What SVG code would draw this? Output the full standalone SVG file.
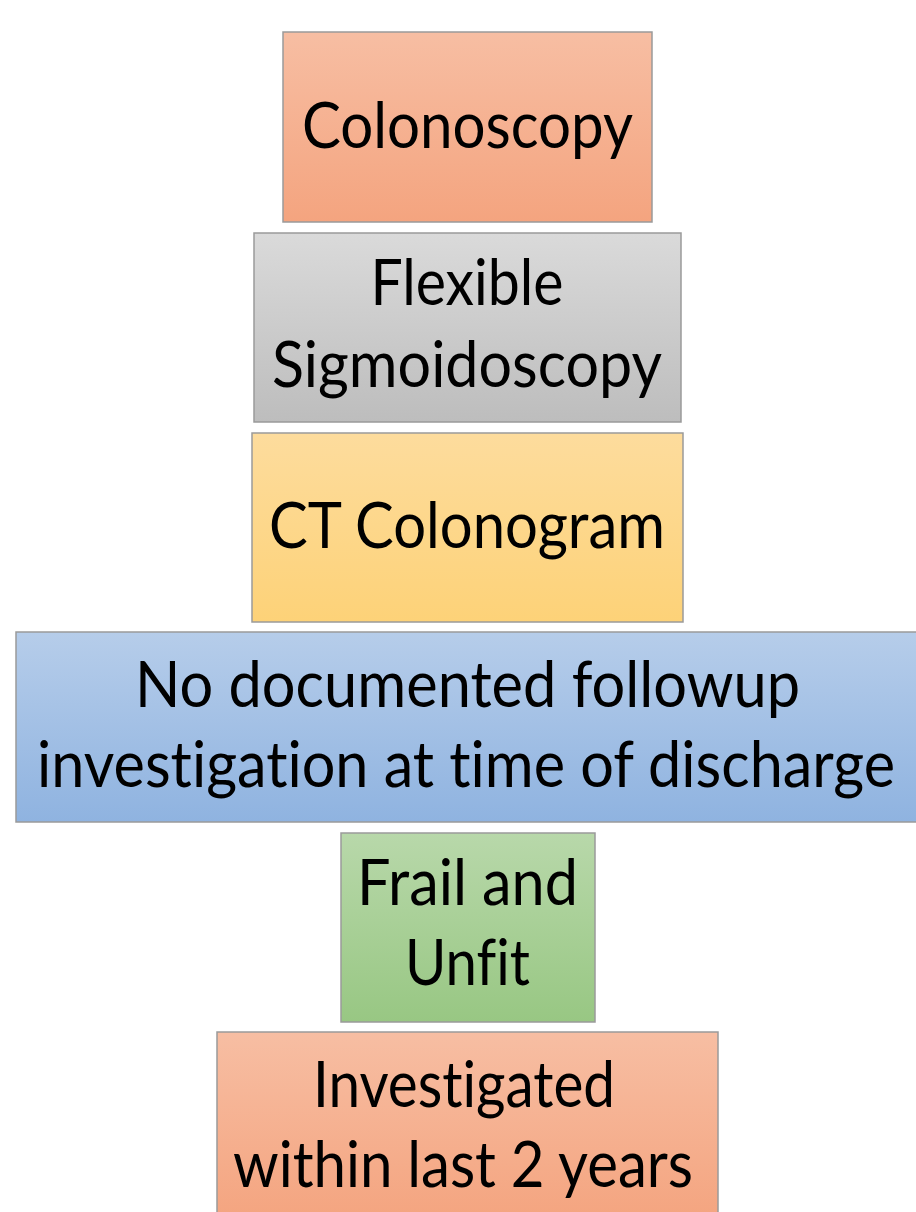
<svg xmlns="http://www.w3.org/2000/svg" width="916" height="1212" viewBox="0 0 916 1212">
<defs>
<linearGradient id="gOr" x1="0" y1="0" x2="0" y2="1"><stop offset="0" stop-color="#f7bea3"/><stop offset="1" stop-color="#f4a47f"/></linearGradient>
<linearGradient id="gGr" x1="0" y1="0" x2="0" y2="1"><stop offset="0" stop-color="#dadada"/><stop offset="1" stop-color="#bdbdbd"/></linearGradient>
<linearGradient id="gYe" x1="0" y1="0" x2="0" y2="1"><stop offset="0" stop-color="#fddc9d"/><stop offset="1" stop-color="#fdd278"/></linearGradient>
<linearGradient id="gBl" x1="0" y1="0" x2="0" y2="1"><stop offset="0" stop-color="#b6cdea"/><stop offset="1" stop-color="#8fb3e0"/></linearGradient>
<linearGradient id="gGn" x1="0" y1="0" x2="0" y2="1"><stop offset="0" stop-color="#b8d8aa"/><stop offset="1" stop-color="#98c783"/></linearGradient>
</defs>
<style>
rect{stroke:#9a9a9a;stroke-width:1.5}
text{font-family:Lato,"Open Sans","Liberation Sans",sans-serif;font-size:64px;fill:#000;text-anchor:middle;font-variant-ligatures:none;font-feature-settings:"liga" 0,"clig" 0}
</style>
<rect width="916" height="1212" fill="#fff" style="stroke:none"/>
<g id="connectors"></g>
<g id="n1"><rect x="283" y="32" width="369" height="190" fill="url(#gOr)"/><text x="467.5" y="148" textLength="331" lengthAdjust="spacingAndGlyphs">Colonoscopy</text></g>
<g id="n2"><rect x="254" y="233" width="427" height="189" fill="url(#gGr)"/><text x="467" y="305" textLength="193" lengthAdjust="spacingAndGlyphs">Flexible</text><text x="467" y="387" textLength="390" lengthAdjust="spacingAndGlyphs">Sigmoidoscopy</text></g>
<g id="n3"><rect x="252" y="433" width="431" height="189" fill="url(#gYe)"/><text x="467" y="548" textLength="396" lengthAdjust="spacingAndGlyphs">CT Colonogram</text></g>
<g id="n4"><rect x="16" y="632" width="906" height="190" fill="url(#gBl)"/><text x="467.5" y="707" textLength="665" lengthAdjust="spacingAndGlyphs">No documented followup</text><text x="466" y="787" textLength="858" lengthAdjust="spacingAndGlyphs">investigation at time of discharge</text></g>
<g id="n5"><rect x="341" y="833" width="254" height="189" fill="url(#gGn)"/><text x="467.5" y="905" textLength="221" lengthAdjust="spacingAndGlyphs">Frail and</text><text x="467.5" y="985" textLength="125" lengthAdjust="spacingAndGlyphs">Unfit</text></g>
<g id="n6"><rect x="217" y="1032" width="501" height="190" fill="url(#gOr)"/><text x="464" y="1107" textLength="302" lengthAdjust="spacingAndGlyphs">Investigated</text><text x="463" y="1187" textLength="460" lengthAdjust="spacingAndGlyphs">within last 2 years</text></g>
</svg>
